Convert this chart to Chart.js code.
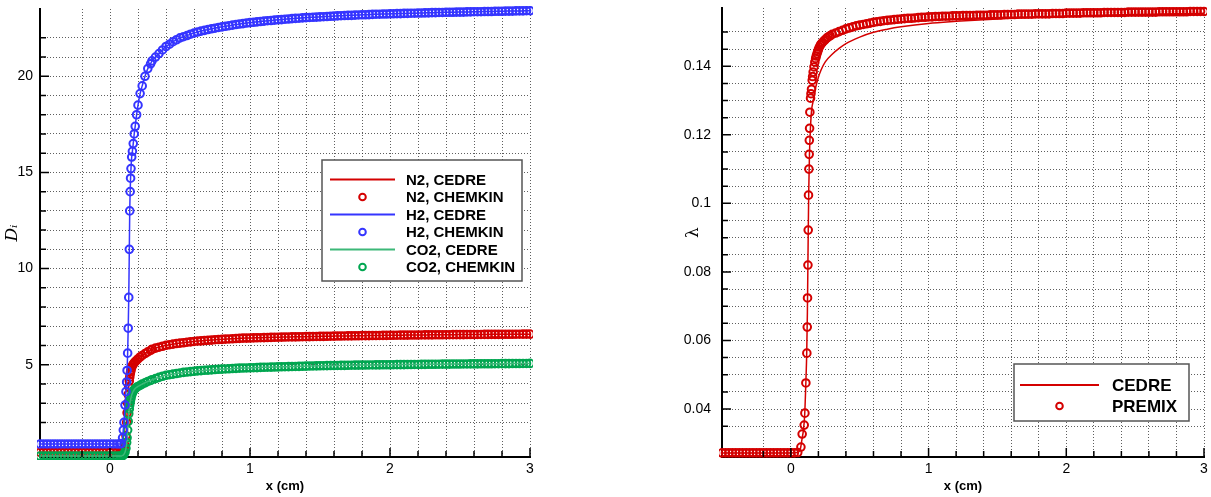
<!DOCTYPE html>
<html>
<head>
<meta charset="utf-8">
<script src="https://cdn.jsdelivr.net/npm/chart.js@4.4.1/dist/chart.umd.min.js"></script>
<style>
  body { margin: 0; background: #fff; width: 1211px; height: 497px; overflow: hidden; position: relative; }
  #left { position: absolute; left: 0; top: 0; width: 545px; height: 497px; }
  #right { position: absolute; left: 680px; top: 0; width: 531px; height: 497px; }
</style>
</head>
<body>
<div id="left"><canvas id="cLeft"></canvas></div>
<div id="right"><canvas id="cRight"></canvas></div>
<script>
// ---- mesh (cm): fresh gas, flame front, burnt gas
const xFlat = [-0.5, -0.475, -0.45, -0.425, -0.4, -0.375, -0.35, -0.325, -0.3, -0.275, -0.25, -0.225,
  -0.2, -0.175, -0.15, -0.125, -0.1, -0.075, -0.05, -0.025, 0, 0.025, 0.05];
const xFlame = [0.07, 0.08, 0.09, 0.095, 0.1, 0.107, 0.114, 0.119, 0.122, 0.126, 0.13, 0.134, 0.138, 0.141,
  0.144, 0.147, 0.15, 0.155, 0.16, 0.166, 0.173, 0.18, 0.19, 0.2, 0.215, 0.23, 0.25, 0.27, 0.29];
const xPost = [0.3, 0.325, 0.35, 0.375, 0.4,
  0.425, 0.45, 0.475, 0.5,  0.525, 0.55, 0.575, 0.6,  0.625, 0.65, 0.675, 0.7,  0.725, 0.75, 0.775, 0.8,
  0.825, 0.85, 0.875, 0.9,  0.925, 0.95, 0.975, 1.0,  1.025, 1.05, 1.075, 1.1,  1.125, 1.15, 1.175, 1.2,
  1.225, 1.25, 1.275, 1.3,  1.325, 1.35, 1.375, 1.4,  1.425, 1.45, 1.475, 1.5,  1.525, 1.55, 1.575, 1.6,
  1.625, 1.65, 1.675, 1.7,  1.725, 1.75, 1.775, 1.8,  1.825, 1.85, 1.875, 1.9,  1.925, 1.95, 1.975, 2.0,
  2.025, 2.05, 2.075, 2.1,  2.125, 2.15, 2.175, 2.2,  2.225, 2.25, 2.275, 2.3,  2.325, 2.35, 2.375, 2.4,
  2.425, 2.45, 2.475, 2.5,  2.525, 2.55, 2.575, 2.6,  2.625, 2.65, 2.675, 2.7,  2.725, 2.75, 2.775, 2.8,
  2.825, 2.85, 2.875, 2.9,  2.925, 2.95, 2.975, 3.0];

// ---- left panel: D_i (CHEMKIN)
const h2Chemkin = [0.88, 0.88, 0.88, 0.88, 0.88, 0.88, 0.88, 0.88, 0.88, 0.88, 0.88, 0.88,
  0.88, 0.88, 0.88, 0.88, 0.88, 0.88, 0.88, 0.88, 0.88, 0.88, 0.88,
  0.88, 0.9, 1.2, 1.6, 2.0, 2.9, 3.6, 4.1, 4.7, 5.6, 6.9, 8.5, 11.0, 13.0,
  14.0, 14.7, 15.2, 15.8, 16.1, 16.5, 17.0, 17.4, 18.0, 18.5, 19.1, 19.5, 20.0, 20.4, 20.65,
  20.8, 21.0, 21.18, 21.37, 21.55,
  21.67, 21.8, 21.9, 22.0,  22.06, 22.12, 22.19, 22.25,  22.3, 22.35, 22.39, 22.43,  22.47, 22.5, 22.54, 22.57,
  22.6, 22.63, 22.66, 22.69,  22.72, 22.74, 22.77, 22.79,  22.81, 22.83, 22.85, 22.87,  22.89, 22.9, 22.92, 22.94,
  22.95, 22.97, 22.98, 23.0,  23.01, 23.02, 23.04, 23.05,  23.06, 23.07, 23.08, 23.09,  23.1, 23.11, 23.12, 23.13,
  23.14, 23.15, 23.16, 23.17,  23.17, 23.18, 23.19, 23.2,  23.2, 23.21, 23.22, 23.23,  23.23, 23.24, 23.24, 23.25,
  23.25, 23.26, 23.26, 23.27,  23.27, 23.28, 23.28, 23.29,  23.29, 23.3, 23.3, 23.31,  23.31, 23.32, 23.32, 23.33,
  23.33, 23.33, 23.34, 23.34,  23.34, 23.35, 23.35, 23.36,  23.36, 23.36, 23.37, 23.37,  23.37, 23.38, 23.38, 23.38,
  23.39, 23.39, 23.39, 23.4,  23.4, 23.4, 23.41, 23.41];

const n2Chemkin = [0.45, 0.45, 0.45, 0.45, 0.45, 0.45, 0.45, 0.45, 0.45, 0.45, 0.45, 0.45,
  0.45, 0.45, 0.45, 0.45, 0.45, 0.45, 0.45, 0.45, 0.45, 0.45, 0.45,
  0.45, 0.46, 0.5, 0.55, 0.62, 0.8, 1.3, 2.0, 2.5, 3.0, 3.45, 3.85, 4.15, 4.35,
  4.5, 4.62, 4.72, 4.85, 4.95, 5.03, 5.1, 5.16, 5.23, 5.3, 5.4, 5.48, 5.58, 5.67, 5.75,
  5.8, 5.86, 5.91, 5.96, 6.01,
  6.04, 6.07, 6.1, 6.12,  6.14, 6.17, 6.19, 6.21,  6.23, 6.24, 6.26, 6.27,  6.28, 6.3, 6.31, 6.32,
  6.33, 6.34, 6.35, 6.36,  6.37, 6.38, 6.385, 6.39,  6.395, 6.4, 6.405, 6.41,  6.415, 6.42, 6.425, 6.43,
  6.435, 6.44, 6.443, 6.446,  6.45, 6.453, 6.456, 6.46,  6.463, 6.466, 6.47, 6.473,  6.476, 6.48, 6.483, 6.486,
  6.49, 6.492, 6.495, 6.497,  6.5, 6.503, 6.506, 6.51,  6.512, 6.515, 6.517, 6.52,  6.522, 6.525, 6.527, 6.53,
  6.532, 6.534, 6.536, 6.538,  6.54, 6.542, 6.544, 6.546,  6.548, 6.55, 6.552, 6.554,  6.555, 6.557, 6.558, 6.56,
  6.561, 6.563, 6.564, 6.566,  6.567, 6.569, 6.57, 6.571,  6.573, 6.574, 6.575, 6.577,  6.578, 6.579, 6.58, 6.581,
  6.582, 6.584, 6.585, 6.586,  6.587, 6.588, 6.589, 6.59];

const co2Chemkin = [0.25, 0.25, 0.25, 0.25, 0.25, 0.25, 0.25, 0.25, 0.25, 0.25, 0.25, 0.25,
  0.25, 0.25, 0.25, 0.25, 0.25, 0.25, 0.25, 0.25, 0.25, 0.25, 0.25,
  0.25, 0.25, 0.27, 0.3, 0.35, 0.45, 0.65, 0.95, 1.2, 1.6, 2.05, 2.45, 2.7, 2.9,
  3.05, 3.18, 3.28, 3.42, 3.53, 3.62, 3.7, 3.76, 3.82, 3.87, 3.93, 3.99, 4.06, 4.13, 4.18,
  4.22, 4.28, 4.34, 4.4, 4.45,
  4.48, 4.51, 4.54, 4.57,  4.6, 4.62, 4.64, 4.66,  4.68, 4.69, 4.71, 4.72,  4.73, 4.75, 4.76, 4.77,
  4.78, 4.79, 4.8, 4.81,  4.82, 4.825, 4.83, 4.84,  4.845, 4.85, 4.86, 4.865,  4.87, 4.875, 4.88, 4.885,
  4.89, 4.895, 4.9, 4.905,  4.91, 4.915, 4.92, 4.925,  4.93, 4.935, 4.94, 4.945,  4.948, 4.952, 4.955, 4.958,
  4.961, 4.964, 4.967, 4.97,  4.973, 4.976, 4.979, 4.982,  4.984, 4.986, 4.988, 4.99,  4.992, 4.994, 4.996, 4.998,
  5.0, 5.002, 5.004, 5.006,  5.008, 5.01, 5.012, 5.014,  5.016, 5.018, 5.02, 5.022,  5.024, 5.026, 5.028, 5.03,
  5.032, 5.034, 5.035, 5.037,  5.038, 5.04, 5.041, 5.043,  5.044, 5.046, 5.047, 5.049,  5.05, 5.052, 5.053, 5.055,
  5.056, 5.058, 5.059, 5.061,  5.062, 5.064, 5.066, 5.068];

// CEDRE curves lie on top of the CHEMKIN markers in the left panel
const n2Cedre = n2Chemkin, h2Cedre = h2Chemkin, co2Cedre = co2Chemkin;

// ---- right panel: lambda (PREMIX mesh in the flame front)
const xFlamePremix = [0.073, 0.082, 0.097, 0.102, 0.109, 0.116, 0.119, 0.121, 0.124, 0.126,
  0.128, 0.131, 0.133, 0.134, 0.136, 0.138, 0.143, 0.146, 0.15, 0.155, 0.158, 0.162,
  0.168, 0.174, 0.18, 0.185, 0.19, 0.195, 0.2, 0.207, 0.215, 0.222, 0.23, 0.24, 0.25, 0.26, 0.27, 0.285];
const lambdaPremix = [0.0272, 0.0272, 0.0272, 0.0272, 0.0272, 0.0272, 0.0272, 0.0272, 0.0272, 0.0272, 0.0272, 0.0272,
  0.0272, 0.0272, 0.0272, 0.0272, 0.0272, 0.0272, 0.0272, 0.0272, 0.0272, 0.0272, 0.0273,
  0.0289, 0.0327, 0.0353, 0.0388, 0.0476, 0.0563, 0.0639, 0.0724, 0.082, 0.0922,
  0.1024, 0.11, 0.1143, 0.1184, 0.1219, 0.1266, 0.1307, 0.132, 0.1333, 0.1359, 0.137, 0.1383,
  0.1398, 0.1412, 0.1423, 0.143, 0.1437, 0.1443, 0.1449, 0.1456, 0.1462, 0.1466, 0.147, 0.1474, 0.1478, 0.1482, 0.1485, 0.1489,
  0.1493, 0.1497, 0.1501, 0.1505, 0.1509,
  0.1512, 0.1515, 0.1518, 0.152,  0.1522, 0.1524, 0.1526, 0.1528,  0.153, 0.1531, 0.1533, 0.1534,  0.1535, 0.1536, 0.1537, 0.1538,
  0.1539, 0.154, 0.154, 0.1541,  0.1542, 0.1543, 0.1543, 0.1544,  0.1544, 0.1545, 0.1545, 0.1546,  0.1546, 0.1546, 0.1547, 0.1547,
  0.1547, 0.1548, 0.1548, 0.1548,  0.1548, 0.1549, 0.1549, 0.1549,  0.1549, 0.155, 0.155, 0.155,  0.155, 0.1551, 0.1551, 0.1551,
  0.1551, 0.1552, 0.1552, 0.1552,  0.1552, 0.1552, 0.1553, 0.1553,  0.1553, 0.1553, 0.1553, 0.1554,  0.1554, 0.1554, 0.1554, 0.1555,
  0.1555, 0.1555, 0.1555, 0.1555,  0.1556, 0.1556, 0.1556, 0.1556,  0.1556, 0.1556, 0.1557, 0.1557,  0.1557, 0.1557, 0.1557, 0.1557,
  0.1557, 0.1558, 0.1558, 0.1558,  0.1558, 0.1558, 0.1558, 0.1558,  0.1558, 0.1558, 0.1559, 0.1559,  0.1559, 0.1559, 0.1559, 0.1559,
  0.1559, 0.1559, 0.1559, 0.156,  0.156, 0.156, 0.156, 0.156];

const xCedreR = [-0.5, 0, 0.05, 0.07, 0.08, 0.09, 0.1, 0.105, 0.11, 0.115, 0.12, 0.125, 0.13, 0.135, 0.14,
  0.15, 0.16, 0.17, 0.18, 0.2, 0.22, 0.25, 0.3, 0.35, 0.4, 0.5, 0.6, 0.7, 0.8, 1.0,
  1.2, 1.4, 1.6, 1.8, 2.0, 2.2, 2.4, 2.6, 2.8, 3.0];
const lambdaCedre = [0.0272, 0.0272, 0.0273, 0.0285, 0.031, 0.0335, 0.038, 0.043, 0.049, 0.056, 0.068, 0.087, 0.104, 0.114, 0.12,
  0.127, 0.1295, 0.1318, 0.1338, 0.1368, 0.139, 0.1413, 0.1435, 0.1452, 0.1466, 0.1485, 0.1499, 0.1508, 0.1515, 0.1525,
  0.1531, 0.1536, 0.154, 0.1543, 0.1546, 0.1548, 0.155, 0.1552, 0.1553, 0.1555];

// tick labels
const xTickLabels = [0, 1, 2, 3];
const yTickLabelsLeft = [5, 10, 15, 20];
const yTickLabelsRight = [0.04, 0.06, 0.08, 0.1, 0.12, 0.14];

const xChemkin = [...xFlat, ...xFlame, ...xPost];
const xPremix = [...xFlat, ...xFlamePremix, ...xPost];

const RED = '#d40000', BLUE = '#3535ff', GREEN = '#00a650';
Chart.defaults.font.family = "'Liberation Sans', Arial, sans-serif";
Chart.defaults.font.size = 14;
Chart.defaults.color = '#000';

const pts = (xs, ys) => xs.map((x, i) => ({ x: x, y: ys[i] }));
const near = (a, b) => Math.abs(a - b) < 1e-7;

function markers(label, xs, ys, color, order) {
  return { label, data: pts(xs, ys), showLine: false, order, clip: 3,
    pointRadius: 3.8, pointBorderWidth: 2, pointBorderColor: color,
    pointBackgroundColor: 'rgba(0,0,0,0)', pointHoverRadius: 0 };
}
function curve(label, xs, ys, color, order) {
  return { label, data: pts(xs, ys), showLine: true, order, borderColor: color,
    borderWidth: 1.5, pointRadius: 0, cubicInterpolationMode: 'monotone' };
}

// tecplot-like inward tick marks
const innerTicks = {
  id: 'innerTicks',
  afterDraw(chart) {
    const { ctx, scales: { x, y } } = chart;
    ctx.save();
    ctx.strokeStyle = '#000';
    ctx.lineWidth = 1.5;
    ctx.beginPath();
    x.ticks.forEach(t => {
      const px = x.getPixelForValue(t.value), len = t.label ? 9 : 6;
      ctx.moveTo(px, x.top); ctx.lineTo(px, x.top - len);
    });
    y.ticks.forEach(t => {
      const py = y.getPixelForValue(t.value), len = t.label ? 9 : 6;
      ctx.moveTo(y.right, py); ctx.lineTo(y.right + len, py);
    });
    ctx.stroke();
    ctx.restore();
  }
};

// legend box drawn inside the plot
const boxLegend = {
  id: 'boxLegend',
  afterDraw(chart, args, o) {
    const ctx = chart.ctx;
    ctx.save();
    ctx.fillStyle = '#fff';
    ctx.fillRect(o.x, o.y, o.w, o.h);
    ctx.strokeStyle = '#555';
    ctx.lineWidth = 1.5;
    ctx.strokeRect(o.x, o.y, o.w, o.h);
    ctx.font = o.font;
    ctx.textBaseline = 'middle';
    chart.data.datasets.forEach((ds, i) => {
      const yy = o.y + o.top + i * o.row;
      if (ds.showLine) {
        ctx.strokeStyle = ds.borderColor; ctx.lineWidth = 2;
        ctx.beginPath(); ctx.moveTo(o.x0, yy); ctx.lineTo(o.x1, yy); ctx.stroke();
      } else {
        ctx.strokeStyle = ds.pointBorderColor; ctx.lineWidth = 2;
        ctx.beginPath(); ctx.arc((o.x0 + o.x1) / 2, yy, 3.3, 0, Math.PI * 2); ctx.stroke();
      }
      ctx.fillStyle = '#000';
      ctx.fillText(ds.label, o.tx, yy + 1);
    });
    ctx.restore();
  }
};

function xAxis() {
  return {
    type: 'linear', min: -0.5, max: 3,
    afterFit: s => { s.height = 40; s.paddingLeft = 0; s.paddingRight = 0; },
    afterBuildTicks: s => { s.ticks = s.ticks.filter(t => near(t.value / 0.2, Math.round(t.value / 0.2))); },
    ticks: { stepSize: 0.2, autoSkip: false, maxRotation: 0, padding: 4,
      callback: v => xTickLabels.some(l => near(l, v)) ? String(Math.round(v)) : '' },
    grid: { color: 'rgba(40,40,40,0.75)', lineWidth: 1, drawTicks: false },
    border: { display: true, color: '#000', width: 2, dash: [1, 2] },
    title: { display: true, text: 'x (cm)', font: { weight: 'bold', size: 13 }, padding: { top: 0, bottom: 3 } }
  };
}

const commonPlugins = { legend: { display: false }, tooltip: { enabled: false } };

new Chart(document.getElementById('cLeft'), {
  type: 'scatter',
  data: {
    datasets: [
      curve('N2, CEDRE', xChemkin, n2Cedre, RED, 5),
      markers('N2, CHEMKIN', xChemkin, n2Chemkin, RED, 4),
      curve('H2, CEDRE', xChemkin, h2Cedre, BLUE, 0),
      markers('H2, CHEMKIN', xChemkin, h2Chemkin, BLUE, 1),
      curve('CO2, CEDRE', xChemkin, co2Cedre, '#3cb878', 2),
      markers('CO2, CHEMKIN', xChemkin, co2Chemkin, GREEN, 3)
    ]
  },
  options: {
    animation: false, responsive: true, maintainAspectRatio: false,
    layout: { padding: { top: 9, right: 15, left: 0, bottom: 0 } },
    scales: {
      x: xAxis(),
      y: {
        type: 'linear', min: 0.2, max: 23.5,
        afterFit: s => { s.width = 40; s.paddingTop = 0; s.paddingBottom = 0; },
        afterBuildTicks: s => { s.ticks = s.ticks.filter(t => near(t.value, Math.round(t.value))); },
        ticks: { stepSize: 1, autoSkip: false, padding: 7,
          callback: v => yTickLabelsLeft.some(l => near(l, v)) ? String(Math.round(v)) : '' },
        grid: { color: 'rgba(40,40,40,0.75)', lineWidth: 1, drawTicks: false },
        border: { display: true, color: '#000', width: 2, dash: [1, 2] },
        title: { display: true, text: 'Dᵢ', font: { family: "'DejaVu Serif', serif", style: 'italic', size: 17 }, padding: { top: 2, bottom: 0 } }
      }
    },
    plugins: Object.assign({}, commonPlugins, {
      boxLegend: { x: 322, y: 160, w: 200, h: 121, top: 19.5, row: 17.5, x0: 330, x1: 395, tx: 406,
        font: "bold 15px 'Liberation Sans', Arial, sans-serif" }
    })
  },
  plugins: [innerTicks, boxLegend]
});

new Chart(document.getElementById('cRight'), {
  type: 'scatter',
  data: {
    datasets: [
      curve('CEDRE', xCedreR, lambdaCedre, RED, 0),
      markers('PREMIX', xPremix, lambdaPremix, RED, 1)
    ]
  },
  options: {
    animation: false, responsive: true, maintainAspectRatio: false,
    layout: { padding: { top: 8, right: 7, left: 0, bottom: 0 } },
    scales: {
      x: xAxis(),
      y: {
        type: 'linear', min: 0.026, max: 0.157,
        afterFit: s => { s.width = 42; s.paddingTop = 0; s.paddingBottom = 0; },
        afterBuildTicks: s => { s.ticks = s.ticks.filter(t => near(t.value / 0.005, Math.round(t.value / 0.005))); },
        ticks: { stepSize: 0.005, autoSkip: false, padding: 11,
          callback: v => { const l = yTickLabelsRight.find(l => near(l, v)); return l === undefined ? '' : String(l); } },
        grid: { color: 'rgba(40,40,40,0.75)', lineWidth: 1, drawTicks: false },
        border: { display: true, color: '#000', width: 2, dash: [1, 2] },
        title: { display: true, text: 'λ', font: { family: "'DejaVu Serif', serif", size: 17 }, padding: { top: 3, bottom: 0 } }
      }
    },
    plugins: Object.assign({}, commonPlugins, {
      boxLegend: { x: 334, y: 364, w: 175, h: 57, top: 21, row: 21, x0: 340, x1: 419, tx: 432,
        font: "bold 17px 'Liberation Sans', Arial, sans-serif" }
    })
  },
  plugins: [innerTicks, boxLegend]
});
</script>
</body>
</html>
